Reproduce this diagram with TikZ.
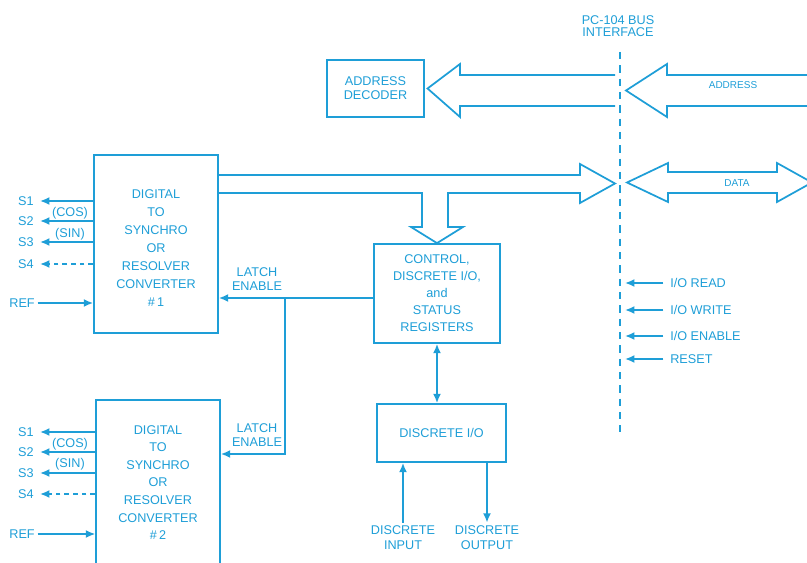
\documentclass[tikz,border=0pt]{standalone}
\usepackage{fontspec}
\setmainfont{Liberation Sans}
\usetikzlibrary{arrows.meta}
\definecolor{bl}{RGB}{30,158,215}
\begin{document}
\begin{tikzpicture}[x=0.75pt,y=-0.75pt,
  every node/.style={text=bl,font=\fontsize{9.5}{11}\selectfont,inner sep=0pt,align=center},
  ln/.style={draw=bl,line width=1.3pt},
  box/.style={ln},
  tipa/.tip={Latex[length=7pt,width=6pt]},
  arr/.style={ln,-tipa},
  darr/.style={ln,tipa-tipa},
  dsh/.style={dash pattern=on 3.5pt off 3pt},
  hollow/.style={ln,line join=miter},
  small/.style={font=\fontsize{7.5}{8}\selectfont}]
\useasboundingbox (0,0) rectangle (807,563);
\clip (0,0) rectangle (807,563);

% boxes
\node[box,minimum width=93pt,minimum height=133.5pt] (conv1) at (156,244) {};
\node[font=\fontsize{9.5}{13.5}\selectfont] (conv1t) at (156,248.5) {DIGITAL\\TO\\SYNCHRO\\OR\\RESOLVER\\CONVERTER\\\#\,1};
\node[box,minimum width=93pt,minimum height=131.25pt] (conv2) at (158,487.5) {};
\node[font=\fontsize{9.5}{13.2}\selectfont] (conv2t) at (158,482.5) {DIGITAL\\TO\\SYNCHRO\\OR\\RESOLVER\\CONVERTER\\\#\,2};
\node[box,minimum width=72.75pt,minimum height=42.75pt,font=\fontsize{9.5}{10.5}\selectfont] (adec) at (375.5,88.5) {ADDRESS\\DECODER};
\node[box,minimum width=94.5pt,minimum height=74.25pt,font=\fontsize{9.5}{12.75}\selectfont] (ctrl) at (437,293.5) {CONTROL,\\DISCRETE I/O,\\and\\STATUS\\REGISTERS};
\node[box,minimum width=96.75pt,minimum height=43.5pt] (disc) at (441.5,433) {DISCRETE I/O};

% converter 1 signals
\foreach \n/\y in {1/201,2/221,3/242,4/264} \node[anchor=east] (sa\n) at (34,\y) {S\n};
\foreach \n in {1,2,3} \draw[arr] (conv1.west |- sa\n) -- ([xshift=4.5pt]sa\n.east);
\draw[arr,dsh] (conv1.west |- sa4) -- ([xshift=4.5pt]sa4.east);
\node[anchor=east] (refa) at (35,303) {REF};
\draw[arr] ([xshift=2pt]refa.east) -- (conv1.west |- refa);
\node (cosa) at (70,213) {(COS)};
\node (sina) at (70,234) {(SIN)};

% converter 2 signals
\foreach \n/\y in {1/432,2/452,3/473,4/494} \node[anchor=east] (sb\n) at (34,\y) {S\n};
\foreach \n in {1,2,3} \draw[arr] (conv2.west |- sb\n) -- ([xshift=4.5pt]sb\n.east);
\draw[arr,dsh] (conv2.west |- sb4) -- ([xshift=4.5pt]sb4.east);
\node[anchor=east] (refb) at (35,534) {REF};
\draw[ln,-tipa,line width=1pt] ([xshift=2pt]refb.east) -- (conv2.west |- refb);
\node (cosb) at (70,444) {(COS)};
\node (sinb) at (70,464) {(SIN)};

% bus
\coordinate (bustop) at (620,52);
\coordinate (busbot) at (620,432);
\coordinate (busin) at (625,0);
\draw[ln,dash pattern=on 5.5pt off 4.5pt] (bustop) -- (busbot);
\node[font=\fontsize{9.5}{9.5}\selectfont] (buslbl) at (618,26) {PC-104 BUS\\INTERFACE};

% address arrows
\draw[hollow] (615,75) -- (460,75) -- (460,64) -- ([xshift=2pt]adec.east) -- (460,117) -- (460,106) -- (615,106);
\draw[hollow] (815,75) -- (667,75) -- (667,64) -- (626,90.5) -- (667,117) -- (667,106) -- (815,106);
\node[small] (addrlbl) at (733,85) {ADDRESS};

% data arrows
\draw[hollow] (conv1.east |- 0,175) -- (580,175) -- (580,164) -- (615,183.5) -- (580,203) -- (580,193)
  -- (448,193) -- (448,227) -- (463,227) -- (ctrl.north) -- (411,227) -- (422,227) -- (422,193)
  -- (conv1.east |- 0,193);
\draw[hollow] (627,182.5) -- (668,163) -- (668,172) -- (777,172) -- (777,163) -- (812,182.5)
  -- (777,202) -- (777,193) -- (668,193) -- (668,202) -- cycle;
\node[small] (datalbl) at (737,183) {DATA};

% bus signals
\node[anchor=west] (ior) at (670,283) {I/O READ};
\node[anchor=west] (iow) at (670,310) {I/O WRITE};
\node[anchor=west] (ioe) at (670,336) {I/O ENABLE};
\node[anchor=west] (rst) at (670,359) {RESET};
\foreach \s in {ior,iow,ioe,rst} \draw[arr] ([xshift=-5pt]\s.west) -- (busin |- \s);

% latch enable
\coordinate (lj) at (285,298);
\coordinate (lj2) at (285,454);
\draw[arr] (ctrl.west |- lj) -- (conv1.east |- lj);
\draw[arr] (lj) -- (lj2) -- (conv2.east |- lj2);
\node[font=\fontsize{9.5}{10.5}\selectfont] (le1) at (257,279) {LATCH\\ENABLE};
\node[font=\fontsize{9.5}{10.5}\selectfont] (le2) at (257,435.5) {LATCH\\ENABLE};

% control <-> discrete
\draw[darr] (ctrl.south) -- (ctrl.south |- disc.north);

% discrete in/out
\node[font=\fontsize{9.5}{11.25}\selectfont] (din) at (403,537.5) {DISCRETE\\INPUT};
\node[font=\fontsize{9.5}{11.25}\selectfont] (dout) at (487,537.5) {DISCRETE\\OUTPUT};
\draw[arr] ([yshift=2pt]din.north) -- (disc.south -| din);
\draw[arr] (disc.south -| dout) -- ([yshift=2pt]dout.north);
\end{tikzpicture}
\end{document}
